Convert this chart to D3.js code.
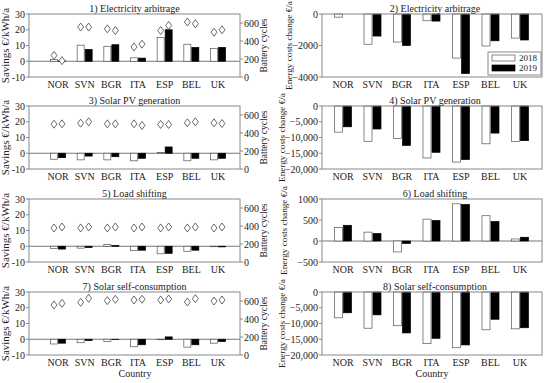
<!DOCTYPE html>
<html>
<head>
<meta charset="utf-8">
<script src="https://cdn.jsdelivr.net/npm/d3@7"></script>
<style>
  body { margin: 0; background: #fff; }
  svg text { font-family: "Liberation Serif", serif; fill: #222; }
</style>
</head>
<body>
<svg id="chart" width="550" height="383"></svg>
<script>
var countries = ["NOR", "SVN", "BGR", "ITA", "ESP", "BEL", "UK"];
var years = ["2018", "2019"];

// left column: savings €/kWh/a and battery cycles
var arbSav18 = [1.2, 10.2, 9.5, 2.2, 15.0, 10.8, 8.2];
var arbSav19 = [0.3, 7.5, 10.5, 2.0, 20.0, 8.8, 8.8];
var arbCyc18 = [240, 555, 535, 334, 516, 611, 497];
var arbCyc19 = [182, 555, 516, 365, 573, 592, 524];

var pvSav18 = [-3.8, -4.2, -4.2, -4.8, 0.5, -4.8, -4.2];
var pvSav19 = [-2.8, -1.8, -2.2, -3.2, 4.0, -3.2, -3.2];
var pvCyc18 = [498, 509, 502, 502, 495, 513, 513];
var pvCyc19 = [502, 524, 502, 484, 495, 524, 505];

var lsSav18 = [-1.5, -1.2, 1.2, -2.8, -4.8, -3.2, -0.3];
var lsSav19 = [-1.8, -0.8, 0.4, -2.5, -4.5, -2.5, -0.4];
var lsCyc18 = [378, 378, 378, 378, 378, 378, 378];
var lsCyc19 = [389, 389, 389, 389, 389, 389, 389];

var scSav18 = [-3.0, -2.2, -1.5, -4.8, -0.3, -5.0, -2.5];
var scSav19 = [-2.5, -0.8, -0.2, -3.5, 1.5, -3.5, -1.5];
var scCyc18 = [556, 585, 604, 611, 611, 589, 600];
var scCyc19 = [574, 630, 619, 619, 622, 626, 611];

// right column: energy costs change €/a
var arbCost18 = [-200, -1920, -1780, -430, -2800, -2030, -1530];
var arbCost19 = [0, -1400, -2000, -450, -3780, -1700, -1650];
var pvCost18 = [-8300, -11200, -10300, -16500, -17800, -12000, -11300];
var pvCost19 = [-6600, -7300, -12500, -14700, -17000, -8600, -11000];
var lsCost18 = [325, 211, -260, 520, 886, 602, 49];
var lsCost19 = [374, 179, -57, 488, 870, 463, 89];
var scCost18 = [-8200, -11500, -10700, -16400, -17700, -12000, -11700];
var scCost19 = [-6600, -7250, -13000, -14700, -16800, -8650, -11350];

var leftTitles = ["1) Electricity arbitrage", "3) Solar PV generation", "5) Load shifting", "7) Solar self-consumption"];
var rightTitles = ["2) Electricity arbitrage", "4) Solar PV generation", "6) Load shifting", "8) Solar self-consumption"];

var savTicks = [-10, 0, 10, 20, 30];
var cycTicks = [0, 200, 400, 600];

var svg = d3.select("#chart");
var tops = [14, 106, 199, 292];
var ph = 63;
var frameCol = "#888";

function diamond(x, y) {
    return "M" + x + "," + (y - 4) + "L" + (x + 3) + "," + y + "L" + x + "," + (y + 4) + "L" + (x - 3) + "," + y + "Z";
}

function drawLeft(i, s18, s19, c18, c19) {
    var top = tops[i], bot = top + ph;
    var x0 = 29, x1 = 240;
    var g = svg.append("g");
    var x = d3.scalePoint().domain(countries).range([58, 218]);
    var y = d3.scaleLinear().domain([-10, 30]).range([bot, top]);
    var y2 = d3.scaleLinear().domain([0, 700]).range([bot, top]);

    // zero line
    g.append("line").attr("x1", x0).attr("x2", x1)
        .attr("y1", y(0)).attr("y2", y(0))
        .attr("stroke", "#777").attr("stroke-width", 1.2);

    var bw = 7;
    countries.forEach(function(c, k) {
        var cx = x(c);
        [s18[k], s19[k]].forEach(function(v, j) {
            g.append("rect")
                .attr("x", j == 0 ? cx - bw - 0.5 : cx + 0.5)
                .attr("y", y(Math.max(0, v)))
                .attr("width", bw)
                .attr("height", Math.abs(y(v) - y(0)))
                .attr("fill", j == 0 ? "#fff" : "#000")
                .attr("stroke", j == 0 ? "#555" : "#000")
                .attr("stroke-width", 0.7);
        });
        [c18[k], c19[k]].forEach(function(v, j) {
            g.append("path")
                .attr("d", diamond(j == 0 ? cx - 4 : cx + 4, y2(v)))
                .attr("fill", "#fff")
                .attr("stroke", "#444")
                .attr("stroke-width", 0.8);
        });
    });

    // frame
    g.append("rect").attr("x", x0).attr("y", top).attr("width", x1 - x0).attr("height", ph)
        .attr("fill", "none").attr("stroke", frameCol).attr("stroke-width", 1);

    savTicks.forEach(function(t) {
        g.append("line").attr("x1", x0 - 3).attr("x2", x0).attr("y1", y(t)).attr("y2", y(t)).attr("stroke", frameCol);
        g.append("text").attr("x", x0 - 4).attr("y", y(t) + 3.5).attr("text-anchor", "end")
            .attr("font-size", 10).text(t);
    });
    cycTicks.forEach(function(t) {
        g.append("line").attr("x1", x1).attr("x2", x1 + 3).attr("y1", y2(t)).attr("y2", y2(t)).attr("stroke", frameCol);
        g.append("text").attr("x", x1 + 4).attr("y", y2(t) + 3.5).attr("text-anchor", "start")
            .attr("font-size", 10).text(t);
    });
    countries.forEach(function(c) {
        g.append("text").attr("x", x(c)).attr("y", bot + 11).attr("text-anchor", "middle")
            .attr("font-size", 10).text(c);
    });

    g.append("text").attr("x", (x0 + x1) / 2).attr("y", top - 2).attr("text-anchor", "middle")
        .attr("font-size", 10).text(leftTitles[i]);
    g.append("text").attr("transform", "translate(9," + (top + ph / 2) + ") rotate(-90)")
        .attr("text-anchor", "middle").attr("font-size", 11).text("Savings €/kWh/a");
    g.append("text").attr("transform", "translate(267," + (top + ph / 2) + ") rotate(-90)")
        .attr("text-anchor", "middle").attr("font-size", 9.5).text("Battery cycles");
}

function drawRight(i, v18, v19, dom, ticks, fmt, labX) {
    var top = tops[i], bot = top + ph;
    var x0 = 322, x1 = 542;
    var g = svg.append("g");
    var x = d3.scalePoint().domain(countries).range([343, 520]);
    var y = d3.scaleLinear().domain(dom).range([bot, top]);

    if (dom[0] < 0 && dom[1] > 0) {
        g.append("line").attr("x1", x0).attr("x2", x1)
            .attr("y1", y(0)).attr("y2", y(0))
            .attr("stroke", "#777").attr("stroke-width", 1.2);
    }

    var bw = 8;
    countries.forEach(function(c, k) {
        var cx = x(c);
        [v18[k], v19[k]].forEach(function(v, j) {
            g.append("rect")
                .attr("x", j == 0 ? cx - bw - 0.5 : cx + 0.5)
                .attr("y", y(Math.max(0, v)))
                .attr("width", bw)
                .attr("height", Math.abs(y(v) - y(0)))
                .attr("fill", j == 0 ? "#fff" : "#000")
                .attr("stroke", j == 0 ? "#555" : "#000")
                .attr("stroke-width", 0.7);
        });
    });

    g.append("rect").attr("x", x0).attr("y", top).attr("width", x1 - x0).attr("height", ph)
        .attr("fill", "none").attr("stroke", frameCol).attr("stroke-width", 1);

    ticks.forEach(function(t) {
        g.append("line").attr("x1", x0 - 3).attr("x2", x0).attr("y1", y(t)).attr("y2", y(t)).attr("stroke", frameCol);
        g.append("text").attr("x", x0 - 4).attr("y", y(t) + 3.5).attr("text-anchor", "end")
            .attr("font-size", 10).text(fmt(t));
    });
    countries.forEach(function(c) {
        g.append("text").attr("x", x(c)).attr("y", bot + 11).attr("text-anchor", "middle")
            .attr("font-size", 10).text(c);
    });

    g.append("text").attr("x", 435).attr("y", top - 2).attr("text-anchor", "middle")
        .attr("font-size", 10).text(rightTitles[i]);
    g.append("text").attr("transform", "translate(" + labX + "," + (top + ph / 2) + ") rotate(-90)")
        .attr("text-anchor", "middle").attr("font-size", 9.2).text("Energy costs change €/a");
    return g;
}

drawLeft(0, arbSav18, arbSav19, arbCyc18, arbCyc19);
drawLeft(1, pvSav18, pvSav19, pvCyc18, pvCyc19);
drawLeft(2, lsSav18, lsSav19, lsCyc18, lsCyc19);
drawLeft(3, scSav18, scSav19, scCyc18, scCyc19);

var plain = d3.format("d");
var comma = d3.format(",");
var g2 = drawRight(0, arbCost18, arbCost19, [-4000, 0], [-4000, -2000, 0], plain, 292);
drawRight(1, pvCost18, pvCost19, [-20000, 0], [-20000, -15000, -10000, -5000, 0], comma, 285);
drawRight(2, lsCost18, lsCost19, [-500, 1000], [-500, 0, 500, 1000], plain, 287);
drawRight(3, scCost18, scCost19, [-20000, 0], [-20000, -15000, -10000, -5000, 0], comma, 285);

// legend
var leg = g2.append("g").attr("transform", "translate(488,52)");
leg.append("rect").attr("width", 53).attr("height", 23).attr("fill", "#fff").attr("stroke", frameCol);
years.forEach(function(yr, j) {
    leg.append("rect").attr("x", 4).attr("y", 3 + j * 10).attr("width", 23).attr("height", 6)
        .attr("fill", j == 0 ? "#fff" : "#000").attr("stroke", j == 0 ? "#555" : "#000").attr("stroke-width", 0.7);
    leg.append("text").attr("x", 31).attr("y", 9 + j * 10).attr("font-size", 9).text(yr);
});

svg.append("text").attr("x", 135).attr("y", 377).attr("text-anchor", "middle").attr("font-size", 10).text("Country");
svg.append("text").attr("x", 432).attr("y", 377).attr("text-anchor", "middle").attr("font-size", 10).text("Country");
</script>
</body>
</html>
